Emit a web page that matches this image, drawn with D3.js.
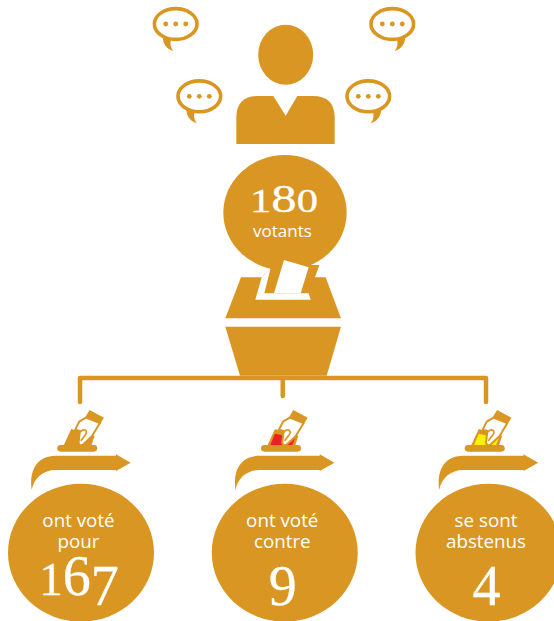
<!DOCTYPE html>
<html>
<head>
	<meta charset="utf-8">
	<title>Votants</title>
	<script src="https://d3js.org/d3.v7.min.js"></script>
	<style>
		body { margin: 0; background: #fff; }
		svg { display: block; }
		.label { font-family: "Open Sans", sans-serif; fill: #fff; text-anchor: middle; }
		.num { font-family: "Liberation Serif", serif; fill: #fff; stroke: #fff; stroke-width: 0.3; text-anchor: middle; }
	</style>
</head>
<body>
	<script type="text/javascript">

		// Data
		var total = 180;
		var totalLabel = 'votants';
		var categories = ['pour', 'contre', 'abstenus'];
		var values = [167, 9, 4];
		var lines1 = ['ont voté', 'ont voté', 'se sont'];
		var lines2 = ['pour', 'contre', 'abstenus'];
		var ballotColors = ['#da9622', '#ee2024', '#fff200'];

		var gold = '#da9622';
		var width = 554, height = 621;

		var svg = d3.select('body').append('svg')
			.attr('width', width)
			.attr('height', height);

		var x = d3.scalePoint().domain(categories).range([81, 488.5]);

		// Old style figures: each digit has its own size and drop
		var digitStyle = {
			'0': [0.84, 0], '1': [0.84, 0], '2': [0.84, 0],
			'6': [1, 0], '8': [1, 0],
			'3': [1, 0.18], '4': [1, 0.18], '5': [1, 0.18], '7': [1, 0.18], '9': [1, 0.18]
		};
		function oldStyle(g, value, px, py, size, length) {
			var t = g.append('text').attr('class', 'num').attr('x', px).attr('y', py);
			if (length) t.attr('textLength', length).attr('lengthAdjust', 'spacingAndGlyphs');
			var drop = 0;
			String(value).split('').forEach(function(c) {
				var s = digitStyle[c];
				t.append('tspan')
					.attr('dy', s[1] * size - drop)
					.style('font-size', (s[0] * size) + 'px')
					.text(c);
				drop = s[1] * size;
			});
		}

		// Person
		svg.append('ellipse').attr('cx', 285.7).attr('cy', 54.7).attr('rx', 27.5).attr('ry', 30).attr('fill', gold);
		svg.append('path').attr('fill', gold)
			.attr('d', 'M236.3,144 V118 Q236.3,96 258,96 H273.3 L285.7,115.7 L297.3,96 H313 Q334.7,96 334.7,118 V144 Z');

		// Speech bubbles
		var bubbles = svg.selectAll('.bubble')
			.data([[175.7, 24, 1], [199.3, 96.3, 1], [392.3, 24, -1], [368.3, 96.3, -1]])
			.enter().append('g')
			.attr('class', 'bubble')
			.attr('transform', function(d) { return 'translate(' + d[0] + ',' + d[1] + ') scale(' + d[2] + ',1)'; });
		bubbles.append('path').attr('fill', gold)
			.attr('d', 'M-13,12 C-13,20 -9,25 -2.5,27 C-5,23 -6,20 -4.5,15 Z');
		bubbles.append('ellipse').attr('rx', 21.3).attr('ry', 15.4)
			.attr('fill', '#fff').attr('stroke', gold).attr('stroke-width', 3.6);
		bubbles.selectAll('circle').data([-10, 0, 10]).enter().append('circle')
			.attr('cx', function(d) { return d; }).attr('r', 2.4).attr('fill', gold);

		// Ballot box, drawn in a 3x grid
		var box = svg.append('g').attr('transform', 'translate(210,150) scale(0.3333)');
		box.append('ellipse').attr('cx', 225).attr('cy', 188).attr('rx', 185).attr('ry', 173).attr('fill', gold);
		box.append('path').attr('fill', gold).attr('d', 'M181,345 H328 L315,382 H347 L393,505 H46 L93,382 H155 L181,358 Z');
		box.append('path').attr('fill', '#fff').attr('d', 'M181,358 L163,430 H296 L302,449 H136 L155,382 Z');
		box.append('path').attr('fill', '#fff').attr('d', 'M222,330 L296,352 L272,430 H192 Z');
		box.append('path').attr('fill', gold).attr('d', 'M46,530 H393 L350,677 H90 Z');

		// Total
		var head = svg.append('g');
		oldStyle(head, total, 284, 212.3, 41, 68);
		head.append('text').attr('class', 'label').attr('x', 282.5).attr('y', 236.7)
			.style('font-size', '17px').text(totalLabel);

		// Tree
		svg.append('path')
			.attr('fill', 'none').attr('stroke', gold).attr('stroke-width', 4.5)
			.attr('stroke-linecap', 'round').attr('stroke-linejoin', 'round')
			.attr('d', 'M' + (x('pour') - 1) + ',402 V378 H' + (x('abstenus') - 2.5) + ' V402 M' + (x('contre') - 2) + ',378 V396');

		// Columns
		var col = svg.selectAll('.col')
			.data(categories)
			.enter().append('g')
			.attr('class', 'col')
			.attr('transform', function(d) { return 'translate(' + x(d) + ',0)'; });

		// Voting icon
		var icon = col.append('g').attr('transform', 'translate(-29.75,405) scale(0.3333)');
		icon.append('rect').attr('x', 18).attr('y', 120).attr('width', 120).attr('height', 20).attr('rx', 10).attr('fill', gold);
		icon.append('path').attr('fill', gold).attr('d', 'M60,72 L36,124 H120 L130,92 Z');
		icon.append('path').attr('fill', function(d, i) { return ballotColors[i]; })
			.attr('d', 'M60,86 L46,120 H112 L120,100 Z');
		icon.append('path').attr('fill', '#fff').attr('stroke', gold).attr('stroke-width', 6).attr('stroke-linejoin', 'round')
			.attr('d', 'M104,38 L84,50 L72,74 L86,78 L82,112 C82,122 92,124 98,116 L122,94 L146,54 Z');
		icon.append('path').attr('fill', 'none').attr('stroke', gold).attr('stroke-width', 5).attr('stroke-linecap', 'round')
			.attr('d', 'M88,80 C98,70 112,76 102,90 L90,106');
		icon.append('path').attr('fill', gold).attr('d', 'M115,15 L158,38 L146,58 L103,35 Z');

		// Arrow
		col.append('path').attr('fill', gold)
			.attr('d', 'M-49.3,490 C-52,470 -44,455.7 -25,455.7 H35 V454.3 L49.7,462.7 L35,471 V470 H-25 C-38,470 -47,478 -49.3,490 Z');

		// Result circles
		col.append('ellipse').attr('cy', 552.7).attr('rx', 73).attr('ry', 69).attr('fill', gold);
		col.append('text').attr('class', 'label').attr('x', -2.5).attr('y', 526.7).style('font-size', '18.8px')
			.text(function(d, i) { return lines1[i]; });
		col.append('text').attr('class', 'label').attr('x', -2.5).attr('y', 548).style('font-size', '18.8px')
			.text(function(d, i) { return lines2[i]; });
		col.each(function(d, i) {
			oldStyle(d3.select(this), values[i], -2, 595, 56);
		});

	</script>
</body>
</html>
